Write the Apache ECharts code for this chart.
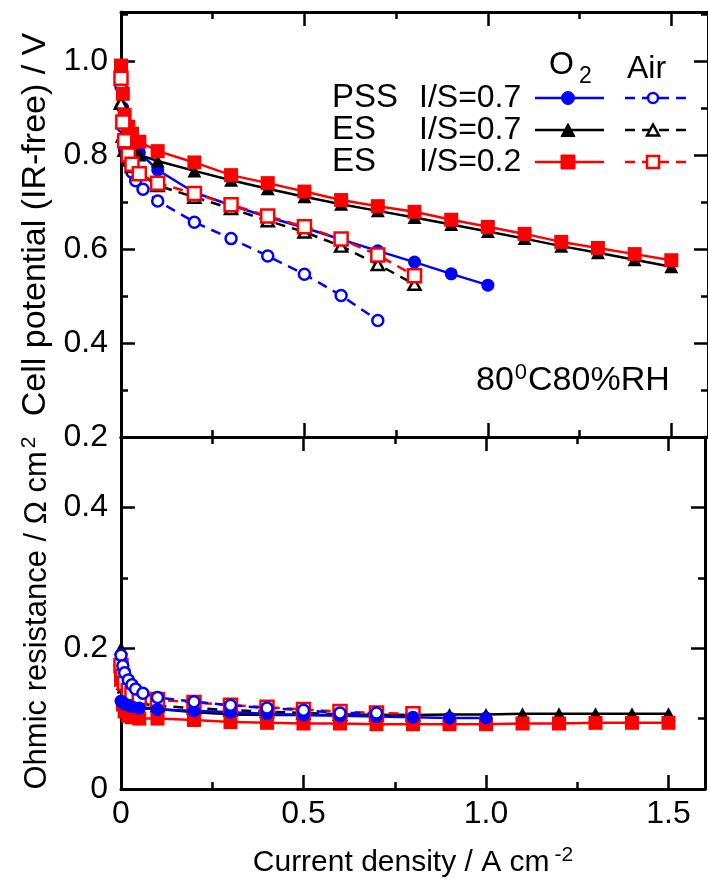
<!DOCTYPE html>
<html>
<head>
<meta charset="utf-8">
<script src="https://cdn.jsdelivr.net/npm/echarts@6/dist/echarts.min.js"></script>
<style>
  html, body { margin: 0; padding: 0; background: #fff; }
  #chart { width: 708px; height: 881px; }
</style>
</head>
<body>
<div id="chart"></div>
<script>
// Current density (A cm^-2) for each measurement set
const jPssO2 = [0, 0.005, 0.01, 0.02, 0.03, 0.05, 0.1, 0.2, 0.3, 0.4, 0.5, 0.6, 0.7, 0.8, 0.9, 1.0];
const jPssAir = [0, 0.005, 0.01, 0.02, 0.03, 0.04, 0.06, 0.1, 0.2, 0.3, 0.4, 0.5, 0.6, 0.7];
const jEsO2 = [0, 0.005, 0.01, 0.02, 0.03, 0.05, 0.1, 0.2, 0.3, 0.4, 0.5, 0.6, 0.7, 0.8, 0.9, 1.0, 1.1, 1.2, 1.3, 1.4, 1.5];
const jEsAir = [0, 0.005, 0.01, 0.02, 0.03, 0.05, 0.1, 0.2, 0.3, 0.4, 0.5, 0.6, 0.7, 0.8];

// Cell potential, IR-free (V)
const vPssO2 = [0.975, 0.90, 0.87, 0.845, 0.83, 0.805, 0.768, 0.72, 0.693, 0.668, 0.645, 0.620, 0.596, 0.572, 0.547, 0.523];
const vPssAir = [0.945, 0.86, 0.81, 0.785, 0.763, 0.745, 0.727, 0.702, 0.657, 0.622, 0.585, 0.546, 0.501, 0.448];
const vEs07O2 = [0.915, 0.87, 0.85, 0.83, 0.815, 0.80, 0.787, 0.766, 0.746, 0.728, 0.711, 0.695, 0.681, 0.667, 0.652, 0.637, 0.622, 0.606, 0.592, 0.577, 0.562];
const vEs07Air = [0.91, 0.84, 0.81, 0.79, 0.775, 0.76, 0.735, 0.71, 0.686, 0.66, 0.636, 0.606, 0.567, 0.525];
const vEs02O2 = [0.99, 0.93, 0.885, 0.86, 0.845, 0.828, 0.808, 0.784, 0.757, 0.74, 0.722, 0.704, 0.691, 0.679, 0.662, 0.647, 0.632, 0.615, 0.602, 0.589, 0.576];
const vEs02Air = [0.963, 0.87, 0.83, 0.80, 0.78, 0.76, 0.740, 0.718, 0.694, 0.670, 0.647, 0.621, 0.587, 0.543];

// Ohmic resistance (Ohm cm^2)
const rPssO2 = [0.125, 0.123, 0.121, 0.119, 0.117, 0.115, 0.113, 0.111, 0.109, 0.107, 0.105, 0.104, 0.103, 0.102, 0.101, 0.101];
const rPssAir = [0.19, 0.175, 0.165, 0.155, 0.148, 0.142, 0.136, 0.13, 0.124, 0.119, 0.115, 0.112, 0.108, 0.108];
const rEs07O2 = [0.20, 0.15, 0.135, 0.125, 0.12, 0.116, 0.114, 0.109, 0.106, 0.105, 0.105, 0.105, 0.105, 0.105, 0.106, 0.106, 0.107, 0.107, 0.107, 0.107, 0.107];
const rEs07Air = [0.185, 0.16, 0.145, 0.135, 0.13, 0.122, 0.118, 0.115, 0.112, 0.11, 0.108, 0.106, 0.105, 0.105];
const rEs02O2 = [0.155, 0.12, 0.11, 0.104, 0.102, 0.10, 0.10, 0.098, 0.095, 0.094, 0.093, 0.093, 0.092, 0.092, 0.092, 0.092, 0.093, 0.093, 0.094, 0.094, 0.094];
const rEs02Air = [0.175, 0.16, 0.15, 0.14, 0.135, 0.13, 0.127, 0.123, 0.119, 0.116, 0.113, 0.11, 0.108, 0.107];

// Tick labels
const xTicks = [0, 0.5, 1.0, 1.5];
const yTicksPotential = [0.2, 0.4, 0.6, 0.8, 1.0];
const yTicksResistance = [0, 0.2, 0.4];

// Legend rows: sample, ratio
const legendSamples = ['PSS', 'ES', 'ES'];
const legendRatios = ['I/S=0.7', 'I/S=0.7', 'I/S=0.2'];

const FONT = '"Liberation Sans", Arial, sans-serif';
const BLUE = '#0000ff', RED = '#ff0000', BLACK = '#000000';

const zip = (xs, ys) => xs.map((x, i) => [x, ys[i]]);
const inList = (list, v) => list.some(t => Math.abs(t - v) < 1e-6);

function fmtX(v) {
  if (!inList(xTicks, v)) return '';
  return Math.abs(v) < 1e-9 ? '0' : v.toFixed(1);
}
function fmtY(list) {
  return v => {
    if (!inList(list, v)) return '';
    return Math.abs(v) < 1e-9 ? '0' : v.toFixed(1);
  };
}

const axisLine = { show: true, onZero: false, lineStyle: { color: BLACK, width: 3 } };
const tick = { show: true, inside: true, length: 14, lineStyle: { color: BLACK, width: 2.5 } };
const minor = { show: true, splitNumber: 2, length: 7, lineStyle: { color: BLACK, width: 2.5 } };
const labelStyle = { color: BLACK, fontFamily: FONT, fontSize: 32 };

function xAxis(grid, position, showLabels) {
  return {
    type: 'value', gridIndex: grid, position, min: 0, max: 1.6, interval: 0.5,
    axisLine, axisTick: tick, minorTick: minor, splitLine: { show: false },
    axisLabel: showLabels
      ? Object.assign({ show: true, margin: 9, formatter: fmtX, showMaxLabel: true }, labelStyle)
      : { show: false }
  };
}
function yAxis(grid, position, min, max, list, showLabels) {
  return {
    type: 'value', gridIndex: grid, position, min, max, interval: 0.2,
    axisLine, axisTick: tick, minorTick: minor, splitLine: { show: false },
    axisLabel: showLabels
      ? Object.assign({ show: true, margin: 13, formatter: fmtY(list) }, labelStyle)
      : { show: false }
  };
}

const xAxes = [
  xAxis(0, 'bottom', false),
  xAxis(0, 'top', false),
  Object.assign(xAxis(1, 'bottom', true), {
    name: 'Current density / A cm{sup|-2}',
    nameLocation: 'middle', nameGap: 56,
    nameTextStyle: {
      color: BLACK, fontFamily: FONT, fontSize: 30,
      rich: { sup: { fontFamily: FONT, fontSize: 21, color: BLACK, padding: [0, 0, 15, 5] } }
    }
  }),
  xAxis(1, 'top', false)
];
const yAxes = [
  Object.assign(yAxis(0, 'left', 0.2, 1.104, yTicksPotential, true), {
    name: 'Cell potential (IR-free) / V',
    nameLocation: 'middle', nameGap: 63,
    nameTextStyle: { color: BLACK, fontFamily: FONT, fontSize: 34 }
  }),
  yAxis(0, 'right', 0.2, 1.104, yTicksPotential, false),
  Object.assign(yAxis(1, 'left', 0, 0.5, yTicksResistance, true), {
    name: 'Ohmic resistance / Ω cm{sup|2}',
    nameLocation: 'middle', nameGap: 64,
    nameTextStyle: {
      color: BLACK, fontFamily: FONT, fontSize: 31,
      rich: { sup: { fontFamily: FONT, fontSize: 21, color: BLACK, padding: [0, 0, 15, 3] } }
    }
  }),
  yAxis(1, 'right', 0, 0.5, yTicksResistance, false)
];

function series(name, grid, data, color, symbol, filled, size) {
  return {
    name, type: 'line', xAxisIndex: grid * 2, yAxisIndex: grid * 2, data,
    symbol, symbolSize: size, showSymbol: true, animation: false,
    lineStyle: { color, width: 2.5, type: filled ? 'solid' : [10, 7] },
    itemStyle: filled ? { color, borderWidth: 0 } : { color: '#ffffff', borderColor: color, borderWidth: 2.5 },
    emphasis: { disabled: true }
  };
}

const allSeries = [];
// Potential panel: PSS first, ES sets on top
allSeries.push(series('PSS I/S=0.7 O2', 0, zip(jPssO2, vPssO2), BLUE, 'circle', true, 13));
allSeries.push(series('PSS I/S=0.7 Air', 0, zip(jPssAir, vPssAir), BLUE, 'circle', false, 11));
allSeries.push(series('ES I/S=0.7 O2', 0, zip(jEsO2, vEs07O2), BLACK, 'triangle', true, [14, 13]));
allSeries.push(series('ES I/S=0.7 Air', 0, zip(jEsAir, vEs07Air), BLACK, 'triangle', false, [12, 11]));
allSeries.push(series('ES I/S=0.2 O2', 0, zip(jEsO2, vEs02O2), RED, 'rect', true, 14));
allSeries.push(series('ES I/S=0.2 Air', 0, zip(jEsAir, vEs02Air), RED, 'rect', false, 13));
// Resistance panel: PSS drawn last
allSeries.push(series('ES I/S=0.7 O2', 1, zip(jEsO2, rEs07O2), BLACK, 'triangle', true, [14, 13]));
allSeries.push(series('ES I/S=0.7 Air', 1, zip(jEsAir, rEs07Air), BLACK, 'triangle', false, [12, 11]));
allSeries.push(series('ES I/S=0.2 O2', 1, zip(jEsO2, rEs02O2), RED, 'rect', true, 14));
allSeries.push(series('ES I/S=0.2 Air', 1, zip(jEsAir, rEs02Air), RED, 'rect', false, 13));
allSeries.push(series('PSS I/S=0.7 O2', 1, zip(jPssO2, rPssO2), BLUE, 'circle', true, 13));
allSeries.push(series('PSS I/S=0.7 Air', 1, zip(jPssAir, rPssAir), BLUE, 'circle', false, 11));

// Legend block drawn as graphic elements
const legendColors = [BLUE, BLACK, RED];
const legendShapes = ['circle', 'triangle', 'rect'];
const rowY = [98, 130, 162];
const graphics = [];
const txt = (x, y, text, size, align) => ({
  type: 'text', x, y, z: 10,
  style: { text, fill: BLACK, font: size + 'px ' + FONT, align: align || 'left', verticalAlign: 'middle' }
});
function marker(shape, cx, cy, color, filled) {
  const style = filled ? { fill: color, stroke: color, lineWidth: 1 } : { fill: '#fff', stroke: color, lineWidth: 2.5 };
  if (shape === 'circle') return { type: 'circle', z: 11, shape: { cx, cy, r: filled ? 6.5 : 5 }, style };
  if (shape === 'rect') {
    const s = filled ? 14 : 12;
    return { type: 'rect', z: 11, shape: { x: cx - s / 2, y: cy - s / 2, width: s, height: s }, style };
  }
  const h = filled ? 13 : 11, w = filled ? 14 : 12;
  return { type: 'polygon', z: 11, shape: { points: [[cx, cy - h / 2], [cx + w / 2, cy + h / 2], [cx - w / 2, cy + h / 2]] }, style };
}
graphics.push(txt(549, 65, 'O', 32));
graphics.push(txt(579, 77, '2', 23));
graphics.push(txt(627, 69, 'Air', 32));
legendSamples.forEach((s, i) => {
  const y = rowY[i], c = legendColors[i], sh = legendShapes[i];
  graphics.push(txt(332, y, s, 33));
  graphics.push(txt(419, y, legendRatios[i], 32));
  graphics.push({ type: 'line', z: 10, shape: { x1: 535, y1: y, x2: 604, y2: y }, style: { stroke: c, lineWidth: 2.5 } });
  graphics.push(marker(sh, 568, y, c, true));
  graphics.push({ type: 'line', z: 10, shape: { x1: 625, y1: y, x2: 690, y2: y }, style: { stroke: c, lineWidth: 2.5, lineDash: [10, 7] } });
  graphics.push(marker(sh, 653, y, c, false));
});
// Operating condition note
graphics.push({
  type: 'text', x: 476, y: 381, z: 10,
  style: {
    text: '80{sup|0}C80%RH', fill: BLACK, font: '34px ' + FONT, verticalAlign: 'middle',
    rich: { sup: { font: '22px ' + FONT, fill: BLACK, padding: [0, 1, 16, 1] } }
  }
});

const chart = echarts.init(document.getElementById('chart'), null, { renderer: 'canvas' });
chart.setOption({
  backgroundColor: '#ffffff',
  animation: false,
  grid: [
    { left: 121, top: 12, width: 596, height: 425 },
    { left: 121, top: 437, width: 596, height: 352 }
  ],
  xAxis: xAxes,
  yAxis: yAxes,
  series: allSeries,
  graphic: graphics
});
</script>
</body>
</html>
